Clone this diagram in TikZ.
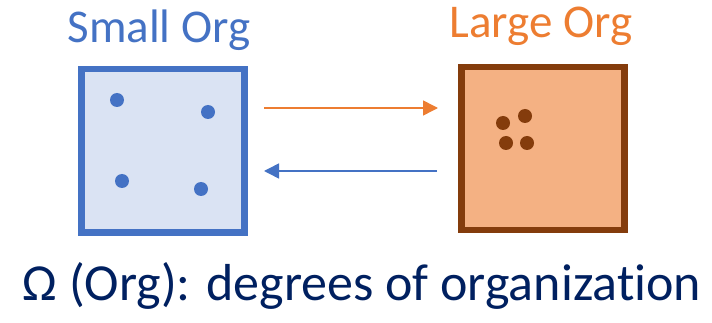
\documentclass[tikz,border=0pt]{standalone}
\usepackage{fontspec}
\setmainfont{Carlito}[Ligatures=NoCommon]
\usetikzlibrary{arrows.meta}
\definecolor{cblue}{HTML}{4472C4}
\definecolor{cbluefill}{HTML}{DAE3F3}
\definecolor{corange}{HTML}{ED7D31}
\definecolor{corangefill}{HTML}{F4B183}
\definecolor{cbrown}{HTML}{843C0C}
\definecolor{cnavy}{HTML}{002060}
\begin{document}
\begin{tikzpicture}[x=1pt,y=-1pt,
  orgbox/.style={draw, line width=6.5pt, minimum width=163pt, minimum height=163pt, inner sep=0pt, anchor=north west},
  dotb/.style={circle, fill=cblue, inner sep=0pt, minimum size=14pt},
  dotr/.style={circle, fill=cbrown, inner sep=0pt, minimum size=14pt},
  title/.style={font=\fontsize{47}{50}\selectfont, anchor=base, inner sep=0pt},
  conn/.style={line width=1.5pt, -{Triangle[length=15pt,width=15pt]}}]
\useasboundingbox (0,0) rectangle (712,323);
\node[orgbox, draw=cblue, fill=cbluefill] (small) at (78,66) {};
\node[orgbox, draw=cbrown, fill=corangefill] (large) at (458,64) {};
\node[title, text=cblue] (st) at (159,43) {Small Org};
\node[title, text=corange] (lt) at (541,38) {Large Org};
\node[dotb] (b1) at (117,100) {};
\node[dotb] (b2) at (208,112) {};
\node[dotb] (b3) at (122,181) {};
\node[dotb] (b4) at (201,189) {};
\node[dotr] (r1) at (503,123) {};
\node[dotr] (r2) at (525,116) {};
\node[dotr] (r3) at (506,143) {};
\node[dotr] (r4) at (527,143) {};
\coordinate (a1) at (264,108);
\coordinate (a2) at (438,108);
\coordinate (a3) at (437,171);
\coordinate (a4) at (264,171);
\draw[conn, draw=corange, fill=corange] (a1) -- (a2);
\draw[conn, draw=cblue, fill=cblue] (a3) -- (a4);
\node[anchor=base, inner sep=0pt, text=cnavy, font=\fontsize{52}{56}\selectfont] (cap) at (362,300) {Ω (Org): degrees of organization};
\end{tikzpicture}
\end{document}
